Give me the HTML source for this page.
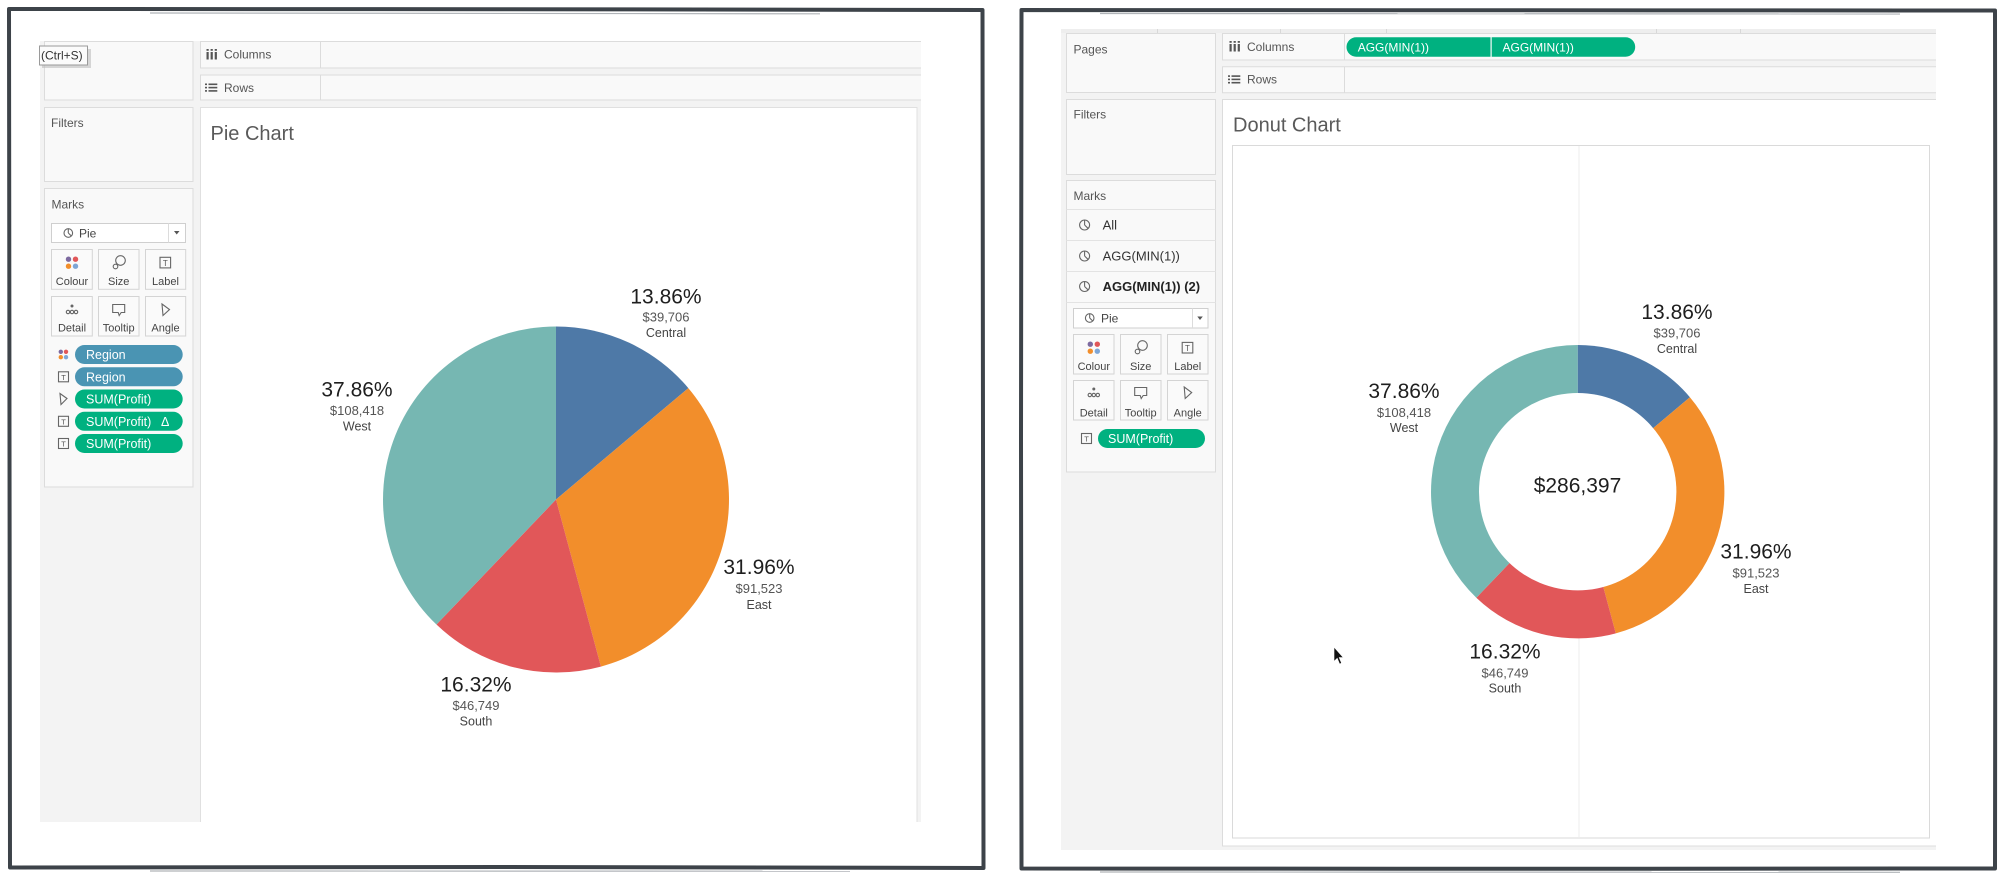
<!DOCTYPE html>
<html><head><meta charset="utf-8">
<style>
html,body{margin:0;padding:0;background:#fff;}
svg{display:block;}
text{font-family:"Liberation Sans",Arial,sans-serif;}
.ui{font-size:12px;fill:#555;}
.row{font-size:13px;fill:#333;}
.btn{font-size:11px;fill:#444;text-anchor:middle;}
.pill{font-size:12.5px;fill:#fff;}
.pct{font-size:21px;fill:#1e1e1e;text-anchor:middle;}
.val{font-size:13px;fill:#555;text-anchor:middle;}
.reg{font-size:12.5px;fill:#444;text-anchor:middle;}
.title{font-size:20px;fill:#5a5a5a;}
.ico{fill:none;stroke:#666;stroke-width:1.1;}
</style></head><body>
<svg width="2000" height="878" viewBox="0 0 2000 878" xmlns="http://www.w3.org/2000/svg">
<rect x="0" y="0" width="2000" height="878" fill="#fff"/>

<!-- ================= LEFT SCREENSHOT ================= -->
<rect x="40" y="41" width="881" height="781" fill="#f3f3f3"/>
<rect x="44.5" y="41.5" width="148.5" height="58.5" fill="#f9f9f9" stroke="#dcdcdc"/>
<rect x="44.5" y="107.5" width="148.5" height="74" fill="#f9f9f9" stroke="#dcdcdc"/>
<text class="ui" x="51" y="127">Filters</text>
<rect x="44.5" y="188.5" width="148.5" height="298.5" fill="#f9f9f9" stroke="#dcdcdc"/>
<text class="ui" x="51.5" y="208.5">Marks</text>
<rect x="51.5" y="223.5" width="134" height="19" fill="#fff" stroke="#cfcfcf"/>
<line x1="168.5" y1="223.5" x2="168.5" y2="242.5" stroke="#dcdcdc"/>
<polygon points="174,231 179.5,231 176.7,234.5" fill="#555"/>
<circle cx="68.3" cy="233" r="4.3" class="ico" stroke="#999"/>
<path d="M68.3,233 L68.3,228.7 M68.3,233 L71.3,236" class="ico" stroke="#999"/>
<text x="79" y="237.5" style="font-size:12px;fill:#444">Pie</text>
<g fill="#fafafa" stroke="#d4d4d4">
<rect x="51.5" y="249.5" width="40.8" height="39.8"/>
<rect x="98.5" y="249.5" width="40.5" height="39.8"/>
<rect x="145.5" y="249.5" width="40.2" height="39.8"/>
<rect x="51.5" y="296.5" width="40.8" height="39.5"/>
<rect x="98.5" y="296.5" width="40.5" height="39.5"/>
<rect x="145.5" y="296.5" width="40.2" height="39.5"/>
</g>
<text class="btn" x="72" y="285">Colour</text>
<text class="btn" x="118.7" y="285">Size</text>
<text class="btn" x="165.5" y="285">Label</text>
<text class="btn" x="72" y="331.5">Detail</text>
<text class="btn" x="118.7" y="331.5">Tooltip</text>
<text class="btn" x="165.5" y="331.5">Angle</text>
<circle cx="68.5" cy="259.2" r="2.7" fill="#7d6aa0"/>
<circle cx="75.5" cy="259.2" r="2.7" fill="#e15759"/>
<circle cx="68.5" cy="266.2" r="2.7" fill="#f28e2b"/>
<circle cx="75.5" cy="266.2" r="2.7" fill="#7ea6d6"/>
<circle cx="120.5" cy="260.5" r="4.8" class="ico"/>
<circle cx="115.5" cy="266.5" r="2.3" class="ico"/>
<rect x="160" y="257.3" width="10.6" height="10.6" class="ico"/>
<text x="165.3" y="266" style="font-size:8px;fill:#555;text-anchor:middle">T</text>
<circle cx="72" cy="306" r="1.5" fill="#666"/>
<circle cx="68" cy="312" r="1.7" class="ico"/>
<circle cx="72" cy="312" r="1.7" class="ico"/>
<circle cx="76" cy="312" r="1.7" class="ico"/>
<path d="M112.7,304.5 h12 v8 h-3.5 l-2,3 l-1,-3 h-5.5 z" class="ico"/>
<path d="M162,304 L169.5,309.5 L163,315.5 Z" class="ico"/>
<rect x="75" y="345" width="107.7" height="19" rx="9.5" fill="#4a94b3"/>
<rect x="75" y="367.3" width="107.7" height="19" rx="9.5" fill="#4a94b3"/>
<rect x="75" y="389.5" width="107.7" height="19" rx="9.5" fill="#00b180"/>
<rect x="75" y="411.8" width="107.7" height="19" rx="9.5" fill="#00b180"/>
<rect x="75" y="434" width="107.7" height="19" rx="9.5" fill="#00b180"/>
<text class="pill" x="86" y="359">Region</text>
<text class="pill" x="86" y="381.3">Region</text>
<text class="pill" x="86" y="403.5">SUM(Profit)</text>
<text class="pill" x="86" y="425.8">SUM(Profit)</text>
<text class="pill" x="161" y="426">Δ</text>
<text class="pill" x="86" y="448">SUM(Profit)</text>
<circle cx="60.8" cy="351.8" r="2.2" fill="#7d6aa0"/>
<circle cx="66" cy="351.8" r="2.2" fill="#e15759"/>
<circle cx="60.8" cy="357.2" r="2.2" fill="#f28e2b"/>
<circle cx="66" cy="357.2" r="2.2" fill="#7ea6d6"/>
<rect x="58.5" y="371.8" width="10" height="10" class="ico"/>
<text x="63.5" y="380" style="font-size:7.5px;fill:#555;text-anchor:middle">T</text>
<path d="M60,393.5 L67,398.5 L61,404.5 Z" class="ico"/>
<rect x="58.5" y="416.3" width="10" height="10" class="ico"/>
<text x="63.5" y="424.5" style="font-size:7.5px;fill:#555;text-anchor:middle">T</text>
<rect x="58.5" y="438.5" width="10" height="10" class="ico"/>
<text x="63.5" y="446.7" style="font-size:7.5px;fill:#555;text-anchor:middle">T</text>

<!-- shelves -->
<path d="M921,41.5 H200.5 V68 H921" fill="#f9f9f9" stroke="#dcdcdc"/>
<line x1="320.5" y1="41.5" x2="320.5" y2="68" stroke="#dcdcdc"/>
<path d="M921,75 H200.5 V100 H921" fill="#f9f9f9" stroke="#dcdcdc"/>
<line x1="320.5" y1="75" x2="320.5" y2="100" stroke="#dcdcdc"/>
<g fill="#555">
<rect x="206.5" y="52" width="2.2" height="7.5"/><rect x="210.6" y="52" width="2.2" height="7.5"/><rect x="214.7" y="52" width="2.2" height="7.5"/>
<rect x="206.5" y="49" width="2.2" height="1.8"/><rect x="210.6" y="49" width="2.2" height="1.8"/><rect x="214.7" y="49" width="2.2" height="1.8"/>
<rect x="205" y="83.5" width="2" height="1.6"/><rect x="205" y="86.8" width="2" height="1.6"/><rect x="205" y="90.1" width="2" height="1.6"/>
<rect x="208.5" y="83.5" width="8.8" height="1.6"/><rect x="208.5" y="86.8" width="8.8" height="1.6"/><rect x="208.5" y="90.1" width="8.8" height="1.6"/>
</g>
<text class="ui" x="224" y="58.7">Columns</text>
<text class="ui" x="224" y="92">Rows</text>
<rect x="42" y="49" width="49" height="19" fill="#bcbcbc" opacity="0.6"/>
<rect x="39.5" y="46" width="48" height="19" fill="#fbfbfb" stroke="#9a9a9a"/>
<text x="41" y="59.7" style="font-size:12px;fill:#333">(Ctrl+S)</text>

<rect x="200.5" y="107.5" width="716.5" height="714.5" fill="#fff"/>
<path d="M200.5,822 V107.5 H917 V822" fill="none" stroke="#e0e0e0"/>
<text class="title" x="210.5" y="140">Pie Chart</text>

<path d="M556,499.5 L556,326.5 A173,173 0 0 1 688.33,388.07 Z" fill="#4e79a7"/>
<path d="M556,499.5 L688.33,388.07 A173,173 0 0 1 600.91,666.57 Z" fill="#f28e2b"/>
<path d="M556,499.5 L600.91,666.57 A173,173 0 0 1 436.46,624.55 Z" fill="#e15759"/>
<path d="M556,499.5 L436.46,624.55 A173,173 0 0 1 556,326.5 Z" fill="#76b7b2"/>

<text class="pct" x="666" y="303.5">13.86%</text>
<text class="val" x="666" y="321.5">$39,706</text>
<text class="reg" x="666" y="337">Central</text>
<text class="pct" x="357" y="396.5">37.86%</text>
<text class="val" x="357" y="415">$108,418</text>
<text class="reg" x="357" y="430.5">West</text>
<text class="pct" x="759" y="574">31.96%</text>
<text class="val" x="759" y="593">$91,523</text>
<text class="reg" x="759" y="609">East</text>
<text class="pct" x="476" y="691.5">16.32%</text>
<text class="val" x="476" y="710">$46,749</text>
<text class="reg" x="476" y="725.5">South</text>

<!-- ================= RIGHT SCREENSHOT ================= -->
<rect x="1061" y="29" width="875" height="821" fill="#f3f3f3"/>
<rect x="1061" y="29" width="875" height="4" fill="#eeeeee"/>
<g stroke="#d8d8d8"><line x1="1157.5" y1="29" x2="1157.5" y2="33"/><line x1="1280.5" y1="29" x2="1280.5" y2="33"/><line x1="1386.5" y1="29" x2="1386.5" y2="33"/><line x1="1656.5" y1="29" x2="1656.5" y2="33"/><line x1="1740.5" y1="29" x2="1740.5" y2="33"/></g>
<rect x="1066.5" y="33.5" width="149" height="59" fill="#f9f9f9" stroke="#dcdcdc"/>
<text class="ui" x="1073.5" y="53.3">Pages</text>
<rect x="1066.5" y="99.5" width="149" height="75" fill="#f9f9f9" stroke="#dcdcdc"/>
<text class="ui" x="1073.5" y="118.5">Filters</text>
<rect x="1066.5" y="180.5" width="149" height="291.5" fill="#f9f9f9" stroke="#dcdcdc"/>
<text class="ui" x="1073.5" y="200">Marks</text>
<g stroke="#e3e3e3">
<line x1="1066.5" y1="209.5" x2="1215.5" y2="209.5"/>
<line x1="1066.5" y1="240.5" x2="1215.5" y2="240.5"/>
<line x1="1066.5" y1="271.5" x2="1215.5" y2="271.5"/>
<line x1="1066.5" y1="302.5" x2="1215.5" y2="302.5"/>
</g>
<g>
<circle cx="1084.6" cy="225" r="5" class="ico" stroke="#888"/><path d="M1084.6,225 V220 M1084.6,225 L1088,228.3" class="ico" stroke="#888"/>
<circle cx="1084.6" cy="256" r="5" class="ico" stroke="#888"/><path d="M1084.6,256 V251 M1084.6,256 L1088,259.3" class="ico" stroke="#888"/>
<circle cx="1084.6" cy="286.5" r="5" class="ico" stroke="#888"/><path d="M1084.6,286.5 V281.5 M1084.6,286.5 L1088,289.8" class="ico" stroke="#888"/>
</g>
<text class="row" x="1102.6" y="229.7">All</text>
<text class="row" x="1102.6" y="260.7">AGG(MIN(1))</text>
<text class="row" x="1102.6" y="291" style="font-weight:bold;fill:#222">AGG(MIN(1)) (2)</text>
<rect x="1073.5" y="308.5" width="134.5" height="19.5" fill="#fff" stroke="#cfcfcf"/>
<line x1="1192.5" y1="308.5" x2="1192.5" y2="328" stroke="#dcdcdc"/>
<polygon points="1197.3,316.5 1202.8,316.5 1200,320" fill="#555"/>
<circle cx="1089.7" cy="318" r="4.3" class="ico" stroke="#999"/>
<path d="M1089.7,318 V313.7 M1089.7,318 L1092.7,321" class="ico" stroke="#999"/>
<text x="1101" y="322.5" style="font-size:12px;fill:#444">Pie</text>
<g fill="#fafafa" stroke="#d4d4d4">
<rect x="1073.5" y="334.5" width="40.5" height="39.5"/>
<rect x="1120.5" y="334.5" width="40.5" height="39.5"/>
<rect x="1167.5" y="334.5" width="40.5" height="39.5"/>
<rect x="1073.5" y="380.5" width="40.5" height="39.5"/>
<rect x="1120.5" y="380.5" width="40.5" height="39.5"/>
<rect x="1167.5" y="380.5" width="40.5" height="39.5"/>
</g>
<text class="btn" x="1093.8" y="370">Colour</text>
<text class="btn" x="1140.7" y="370">Size</text>
<text class="btn" x="1187.7" y="370">Label</text>
<text class="btn" x="1093.8" y="416.5">Detail</text>
<text class="btn" x="1140.7" y="416.5">Tooltip</text>
<text class="btn" x="1187.7" y="416.5">Angle</text>
<circle cx="1090.3" cy="344.2" r="2.7" fill="#7d6aa0"/>
<circle cx="1097.3" cy="344.2" r="2.7" fill="#e15759"/>
<circle cx="1090.3" cy="351.2" r="2.7" fill="#f28e2b"/>
<circle cx="1097.3" cy="351.2" r="2.7" fill="#7ea6d6"/>
<circle cx="1142.5" cy="345.5" r="4.8" class="ico"/>
<circle cx="1137.5" cy="351.5" r="2.3" class="ico"/>
<rect x="1182.2" y="342.4" width="10.6" height="10.6" class="ico"/>
<text x="1187.5" y="351" style="font-size:8px;fill:#555;text-anchor:middle">T</text>
<circle cx="1093.8" cy="389" r="1.5" fill="#666"/>
<circle cx="1089.8" cy="395" r="1.7" class="ico"/>
<circle cx="1093.8" cy="395" r="1.7" class="ico"/>
<circle cx="1097.8" cy="395" r="1.7" class="ico"/>
<path d="M1134.7,387.5 h12 v8 h-3.5 l-2,3 l-1,-3 h-5.5 z" class="ico"/>
<path d="M1184.2,387 L1191.7,392.5 L1185.2,398.5 Z" class="ico"/>
<rect x="1098" y="429" width="107" height="19" rx="9.5" fill="#00b180"/>
<text class="pill" x="1108" y="443">SUM(Profit)</text>
<rect x="1081.5" y="433.5" width="10" height="10" class="ico"/>
<text x="1086.5" y="441.7" style="font-size:7.5px;fill:#555;text-anchor:middle">T</text>

<!-- shelves -->
<path d="M1936,33.5 H1222.5 V60 H1936" fill="#f9f9f9" stroke="#dcdcdc"/>
<line x1="1344.5" y1="33.5" x2="1344.5" y2="60" stroke="#dcdcdc"/>
<path d="M1936,66.7 H1222.5 V92.7 H1936" fill="#f9f9f9" stroke="#dcdcdc"/>
<line x1="1344.5" y1="66.7" x2="1344.5" y2="92.7" stroke="#dcdcdc"/>
<g fill="#555">
<rect x="1229.5" y="44" width="2.2" height="7.5"/><rect x="1233.6" y="44" width="2.2" height="7.5"/><rect x="1237.7" y="44" width="2.2" height="7.5"/>
<rect x="1229.5" y="41" width="2.2" height="1.8"/><rect x="1233.6" y="41" width="2.2" height="1.8"/><rect x="1237.7" y="41" width="2.2" height="1.8"/>
<rect x="1228" y="75.3" width="2" height="1.6"/><rect x="1228" y="78.6" width="2" height="1.6"/><rect x="1228" y="81.9" width="2" height="1.6"/>
<rect x="1231.5" y="75.3" width="8.8" height="1.6"/><rect x="1231.5" y="78.6" width="8.8" height="1.6"/><rect x="1231.5" y="81.9" width="8.8" height="1.6"/>
</g>
<text class="ui" x="1247" y="51">Columns</text>
<text class="ui" x="1247" y="83.7">Rows</text>
<path d="M1490.5,37.3 H1356.2 A9.7,9.7 0 0 0 1356.2,56.7 H1490.5 Z" fill="#00b180"/>
<path d="M1491.7,37.3 H1625.5 A9.7,9.7 0 0 1 1625.5,56.7 H1491.7 Z" fill="#00b180"/>
<text x="1357.7" y="51.3" style="font-size:12px;fill:#fff">AGG(MIN(1))</text>
<text x="1502.5" y="51.3" style="font-size:12px;fill:#fff">AGG(MIN(1))</text>

<rect x="1222.5" y="99.5" width="713.5" height="746.5" fill="#fff"/>
<path d="M1936,99.5 H1222.5 V846 H1936" fill="none" stroke="#dcdcdc"/>
<text class="title" x="1233" y="131.5">Donut Chart</text>
<rect x="1232.5" y="145.5" width="697" height="692.5" fill="none" stroke="#dadada"/>
<line x1="1579" y1="146" x2="1579" y2="838" stroke="#ececec"/>

<path d="M1577.7,491.7 L1577.7,345 A146.7,146.7 0 0 1 1689.91,397.21 Z" fill="#4e79a7"/>
<path d="M1577.7,491.7 L1689.91,397.21 A146.7,146.7 0 0 1 1615.78,633.37 Z" fill="#f28e2b"/>
<path d="M1577.7,491.7 L1615.78,633.37 A146.7,146.7 0 0 1 1476.33,597.73 Z" fill="#e15759"/>
<path d="M1577.7,491.7 L1476.33,597.73 A146.7,146.7 0 0 1 1577.7,345 Z" fill="#76b7b2"/>
<circle cx="1577.7" cy="491.7" r="98.7" fill="#fff"/>
<text class="pct" x="1577.5" y="492.5">$286,397</text>

<text class="pct" x="1677" y="319">13.86%</text>
<text class="val" x="1677" y="337.7">$39,706</text>
<text class="reg" x="1677" y="353">Central</text>
<text class="pct" x="1404" y="398">37.86%</text>
<text class="val" x="1404" y="417">$108,418</text>
<text class="reg" x="1404" y="432">West</text>
<text class="pct" x="1756" y="558.5">31.96%</text>
<text class="val" x="1756" y="577.7">$91,523</text>
<text class="reg" x="1756" y="593">East</text>
<text class="pct" x="1505" y="658.5">16.32%</text>
<text class="val" x="1505" y="677.3">$46,749</text>
<text class="reg" x="1505" y="692.4">South</text>

<path d="M1334,647 L1334,661.5 L1337.2,658.3 L1339.6,664 L1341.6,663.1 L1339.2,657.6 L1343.3,657.6 Z" fill="#111" stroke="#fff" stroke-width="0.6"/>

<!-- ================= HAND-DRAWN FRAMES ================= -->
<g fill="none" stroke="#3d4349" stroke-width="4" stroke-linejoin="round" stroke-linecap="round">
<path d="M9,9 L500,9.2 L982.5,10 L983,440 L983.5,868 L500,867 L10,867.5 L9.5,440 Z"/>
<path d="M1021.5,10 L1500,10.3 L1995,10.5 L1995.5,440 L1995,868.5 L1500,868.8 L1021.5,868.5 L1021,440 Z"/>
</g>
<g fill="none" stroke="#8e949a" stroke-width="1.2" opacity="0.7">
<path d="M150,13 L820,13.8"/>
<path d="M150,871 L850,871.2"/>
<path d="M1100,13.5 L1900,14"/>
<path d="M1100,872 L1900,872.3"/>
</g>
</svg>
</body></html>
